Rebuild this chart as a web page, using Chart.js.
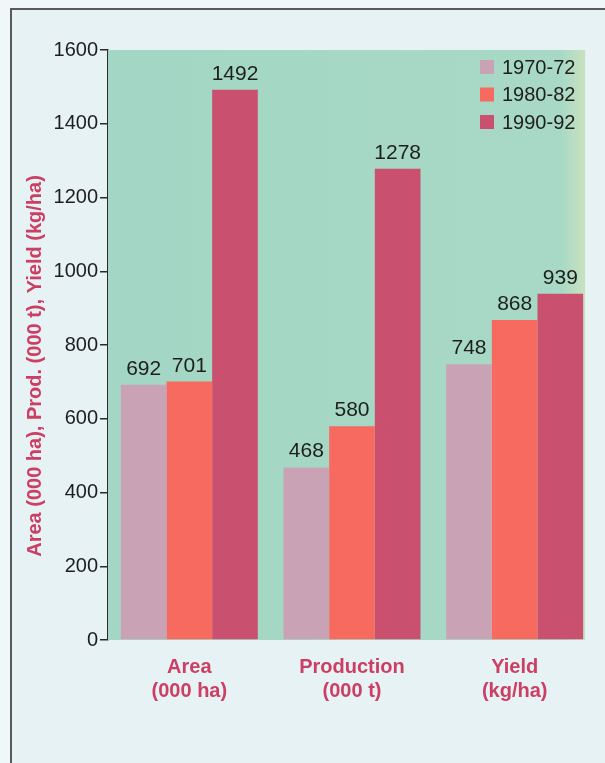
<!DOCTYPE html>
<html>
<head>
<meta charset="utf-8">
<script src="https://cdn.jsdelivr.net/npm/chart.js@4.4.1/dist/chart.umd.min.js"></script>
<style>
  html, body { margin: 0; padding: 0; background: #f0f7f9; }
  .page { position: relative; width: 605px; height: 763px; overflow: hidden; }
  .frame {
    position: absolute; left: 10px; top: 8px; right: -10px; bottom: -10px;
    border: 2px solid #5a5a5a; background: #e7f2f5;
  }
  .wrap { position: absolute; left: 0; top: 0; width: 605px; height: 763px; }
</style>
</head>
<body>
<div class="page">
  <div class="frame"></div>
  <div class="wrap"><canvas id="chart"></canvas></div>
</div>
<script>
const categories = [['Area', '(000 ha)'], ['Production', '(000 t)'], ['Yield', '(kg/ha)']];
const periods = ['1970-72', '1980-82', '1990-92'];
const values7072 = [692, 468, 748];
const values8082 = [701, 580, 868];
const values9092 = [1492, 1278, 939];
const yMin = 0;
const yMax = 1600;
const yStep = 200;
const yTitle = 'Area (000 ha), Prod. (000 t), Yield (kg/ha)';

const barColors = ['#c9a2b5', '#f66a5f', '#c9506f'];
const labelRed = '#cc3e63';
const inkColor = '#1e1e1e';

Chart.defaults.font.family = '"Liberation Sans", Arial, Helvetica, sans-serif';

// teal plot panel, stopping just past the last bar
const plotBackground = {
  id: 'plotBackground',
  beforeDatasetsDraw(chart) {
    const { ctx, chartArea } = chart;
    const meta = chart.getDatasetMeta(chart.data.datasets.length - 1);
    const last = meta.data[meta.data.length - 1];
    const right = last.x + last.width / 2 + 2;
    const g = ctx.createLinearGradient(chartArea.left, 0, right, 0);
    g.addColorStop(0, '#a3d6c4');
    g.addColorStop(0.95, '#a8d9c6');
    g.addColorStop(1, '#c9e2c0');
    ctx.save();
    ctx.fillStyle = g;
    ctx.fillRect(chartArea.left, chartArea.top, right - chartArea.left, chartArea.bottom - chartArea.top);
    ctx.restore();
  }
};

// numbers above every bar
const valueLabels = {
  id: 'valueLabels',
  afterDatasetsDraw(chart) {
    const { ctx } = chart;
    ctx.save();
    ctx.font = '21px "Liberation Sans", Arial, sans-serif';
    ctx.fillStyle = inkColor;
    ctx.textAlign = 'center';
    ctx.textBaseline = 'alphabetic';
    chart.data.datasets.forEach((ds, i) => {
      chart.getDatasetMeta(i).data.forEach((bar, j) => {
        ctx.fillText(String(ds.data[j]), bar.x, bar.y - 10);
      });
    });
    ctx.restore();
  }
};

// legend block in the upper right corner of the plot
const cornerLegend = {
  id: 'cornerLegend',
  afterDraw(chart) {
    const { ctx, chartArea } = chart;
    const x = chartArea.right - 116;
    let y = chartArea.top + 10;
    ctx.save();
    ctx.font = '20px "Liberation Sans", Arial, sans-serif';
    ctx.textBaseline = 'middle';
    ctx.textAlign = 'left';
    chart.data.datasets.forEach(ds => {
      ctx.fillStyle = ds.backgroundColor;
      ctx.fillRect(x, y, 14, 14);
      ctx.fillStyle = inkColor;
      ctx.fillText(ds.label, x + 22, y + 8);
      y += 27.5;
    });
    ctx.restore();
  }
};

// rotated y title, sitting a little below the axis middle
const sideTitle = {
  id: 'sideTitle',
  afterDraw(chart) {
    const { ctx, chartArea } = chart;
    const cy = (chartArea.top + chartArea.bottom) / 2 + 21;
    ctx.save();
    ctx.translate(chartArea.left - 73, cy);
    ctx.rotate(-Math.PI / 2);
    ctx.font = 'bold 20px "Liberation Sans", Arial, sans-serif';
    ctx.fillStyle = labelRed;
    ctx.textAlign = 'center';
    ctx.textBaseline = 'middle';
    ctx.fillText(yTitle, 0, 0);
    ctx.restore();
  }
};

new Chart(document.getElementById('chart'), {
  type: 'bar',
  data: {
    labels: categories,
    datasets: [
      { label: periods[0], data: values7072, backgroundColor: barColors[0] },
      { label: periods[1], data: values8082, backgroundColor: barColors[1] },
      { label: periods[2], data: values9092, backgroundColor: barColors[2] }
    ]
  },
  options: {
    responsive: true,
    maintainAspectRatio: false,
    animation: false,
    categoryPercentage: 0.842,
    barPercentage: 1.0,
    layout: { padding: { left: 48, right: 9, top: 50, bottom: 0 } },
    plugins: {
      legend: { display: false },
      tooltip: { enabled: false }
    },
    scales: {
      x: {
        grid: { display: false, drawTicks: false },
        border: { display: false },
        ticks: { color: labelRed, font: { size: 20, weight: 'bold', lineHeight: 1.2 }, padding: 15 },
        afterFit(scale) { scale.height = 123; }
      },
      y: {
        min: yMin,
        max: yMax,
        ticks: {
          stepSize: yStep,
          color: inkColor,
          font: { size: 20 },
          padding: 2,
          callback: v => String(v)
        },
        grid: { drawOnChartArea: false, drawTicks: true, tickLength: 8, color: '#2a2a2a', lineWidth: 1.5 },
        border: { display: true, color: '#2a2a2a', width: 1.5 },
        afterFit(scale) { scale.width = 60; }
      }
    }
  },
  plugins: [plotBackground, valueLabels, cornerLegend, sideTitle]
});
</script>
</body>
</html>
